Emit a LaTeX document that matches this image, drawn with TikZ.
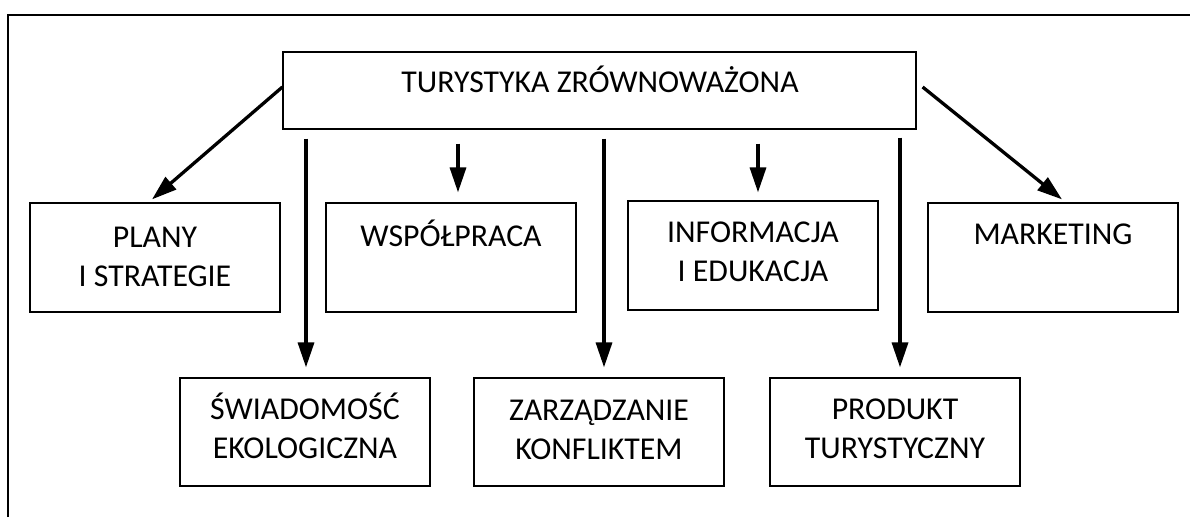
\documentclass[tikz,border=0pt]{standalone}
\usepackage{fontspec}
\setmainfont{Carlito}
\usetikzlibrary{arrows.meta,calc}
\begin{document}
\begin{tikzpicture}[x=1pt,y=-1pt,
  box/.style={draw, line width=1.2pt, inner sep=0pt, minimum width=250pt, minimum height=109pt},
  topbox/.style={draw, line width=1.2pt, inner sep=0pt, minimum width=633pt, minimum height=77pt},
  lbl/.style={anchor=base, inner sep=0pt, font=\fontsize{31.8}{39}\selectfont},
  arr/.style={line width=3.3pt, -{Triangle[length=25pt,width=16pt]}},
  frameline/.style={line width=1.3pt}]
\useasboundingbox (0,0) rectangle (1190,517);
% frame
\coordinate (fbl) at (8,517);
\coordinate (ftl) at (8,15);
\coordinate (ftr) at (1190,15);
\draw[frameline] (fbl) -- (ftl) -- (ftr);
% boxes
\node[topbox] (top) at (599.5,90.5) {};
\node[box] (plany) at (155,257.5) {};
\node[box] (wsp) at (451,257.5) {};
\node[box] (info) at (753,255.5) {};
\node[box] (mark) at (1053,257.5) {};
\node[box, minimum height=108pt] (swiad) at (305,432) {};
\node[box, minimum height=108pt] (zarz) at (599,432) {};
\node[box, minimum height=108pt] (prod) at (895,432) {};
% labels
\node[lbl] (ttop) at ($(top.north)+(0.5,41)$) {TURYSTYKA ZRÓWNOWAŻONA};
\node[lbl] (tplany) at ($(plany.north)+(0,45)$) {\begin{tabular}[t]{@{}c@{}}PLANY\\I STRATEGIE\end{tabular}};
\node[lbl] (twsp) at ($(wsp.north)+(0,44)$) {WSPÓŁPRACA};
\node[lbl] (tinfo) at ($(info.north)+(0,42)$) {\begin{tabular}[t]{@{}c@{}}INFORMACJA\\I EDUKACJA\end{tabular}};
\node[lbl] (tmark) at ($(mark.north)+(0,42)$) {MARKETING};
\node[lbl] (tswiad) at ($(swiad.north)+(0,42)$) {\begin{tabular}[t]{@{}c@{}}ŚWIADOMOŚĆ\\EKOLOGICZNA\end{tabular}};
\node[lbl] (tzarz) at ($(zarz.north)+(0,43)$) {\begin{tabular}[t]{@{}c@{}}ZARZĄDZANIE\\KONFLIKTEM\end{tabular}};
\node[lbl] (tprod) at ($(prod.north)+(0,42)$) {\begin{tabular}[t]{@{}c@{}}PRODUKT\\TURYSTYCZNY\end{tabular}};
% connector end points
\coordinate (s1) at ($(top.west)+(0,-3.5)$);
\coordinate (e1) at ($(plany.north)+(-3,-3)$);
\coordinate (s2) at ($(top.south -| swiad.north)+(1,9)$);
\coordinate (e2) at ($(swiad.north)+(1,-10)$);
\coordinate (s3) at ($(top.south -| wsp.north)+(7,14)$);
\coordinate (e3) at ($(wsp.north)+(7,-10)$);
\coordinate (s4) at ($(top.south -| zarz.north)+(5,9)$);
\coordinate (e4) at ($(zarz.north)+(5,-10)$);
\coordinate (s5) at ($(top.south -| info.north)+(5,14)$);
\coordinate (e5) at ($(info.north)+(5,-8)$);
\coordinate (s6) at ($(top.south -| prod.north)+(5,8)$);
\coordinate (e6) at ($(prod.north)+(5,-10)$);
\coordinate (s7) at ($(top.east)+(6,-3.5)$);
\coordinate (e7) at ($(mark.north)+(9,-3)$);
% connectors
\draw[arr] (s1) -- (e1);
\draw[arr] (s2) -- (e2);
\draw[arr] (s3) -- (e3);
\draw[arr] (s4) -- (e4);
\draw[arr] (s5) -- (e5);
\draw[arr] (s6) -- (e6);
\draw[arr] (s7) -- (e7);
\end{tikzpicture}
\end{document}
